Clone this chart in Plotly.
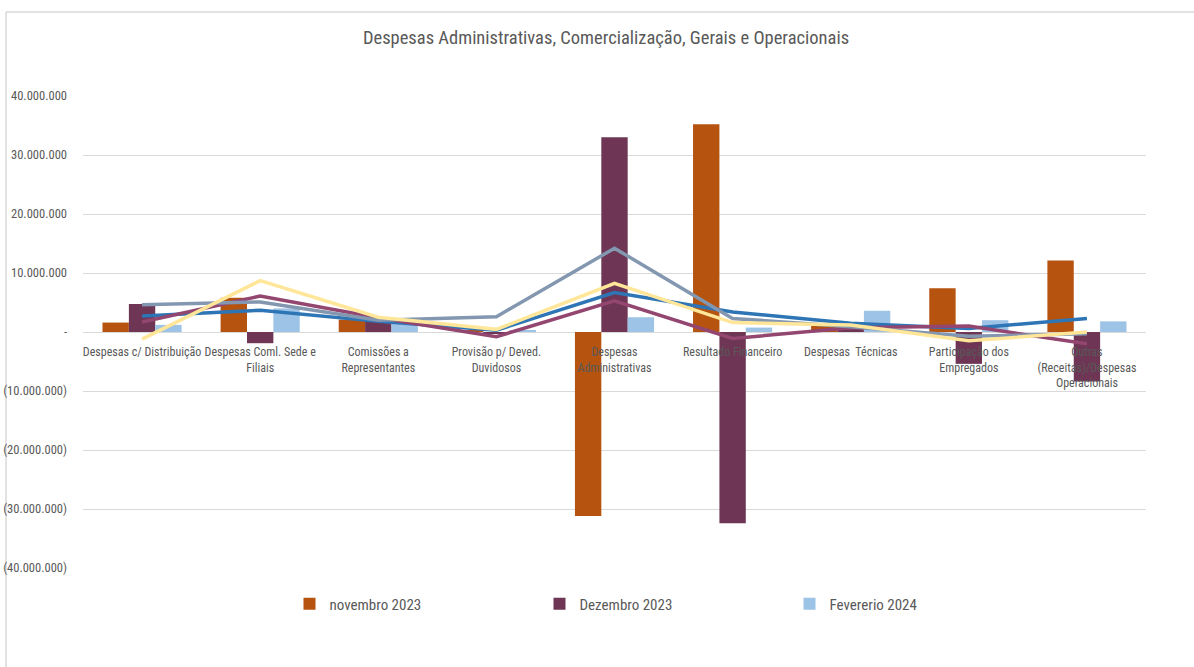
import plotly.graph_objects as go

categories = [
    "Despesas c/ Distribuição",
    "Despesas Coml. Sede e<br>Filiais",
    "Comissões a<br>Representantes",
    "Provisão p/ Deved.<br>Duvidosos",
    "Despesas<br>Administrativas",
    "Resultado Financeiro",
    "Despesas  Técnicas",
    "Participação dos<br>Empregados",
    "Outras<br>(Receitas)/Despesas<br>Operacionais",
]

nov_2023 = [1600000, 5800000, 2100000, 200000, -31200000, 35200000, 1300000, 7400000, 12100000]
dez_2023 = [4750000, -1900000, 1900000, -300000, 33000000, -32400000, 500000, -5400000, -8400000]
fev_2024 = [1200000, 4000000, 1700000, 200000, 2500000, 750000, 3600000, 2000000, 1800000]

line_blue = [2700000, 3700000, 1800000, 300000, 6700000, 3400000, 1500000, 600000, 2300000]
line_mauve = [1700000, 6100000, 2400000, -800000, 5300000, -1100000, 700000, 1000000, -2000000]
line_gray = [4600000, 5100000, 2000000, 2600000, 14200000, 2300000, 900000, -700000, -300000]
line_yellow = [-1200000, 8700000, 2500000, 450000, 8250000, 1600000, 1200000, -1500000, 0]

tick_vals = [40000000, 30000000, 20000000, 10000000, 0, -10000000, -20000000, -30000000, -40000000]
tick_text = ["40.000.000", "30.000.000", "20.000.000", "10.000.000", "-",
             "(10.000.000)", "(20.000.000)", "(30.000.000)", "(40.000.000)"]

FONT = "Liberation Sans Narrow, Roboto Condensed, Arial Narrow, Roboto, sans-serif"
TXT = "#595959"

W, H = 1194, 667
L, R, T, B = 83, 48, 96, 99
PW, PH = W - L - R, H - T - B

fig = go.Figure()
fig.add_trace(go.Bar(name="novembro 2023", x=categories, y=nov_2023,
                     marker=dict(color="#B5530F", line=dict(width=0))))
fig.add_trace(go.Bar(name="Dezembro 2023", x=categories, y=dez_2023,
                     marker=dict(color="#6E3654", line=dict(width=0))))
fig.add_trace(go.Bar(name="Fevererio 2024", x=categories, y=fev_2024,
                     marker=dict(color="#9DC3E6", line=dict(width=0))))

for vals, col in [(line_blue, "#2E75B6"), (line_mauve, "#93466F"),
                  (line_gray, "#8497B0"), (line_yellow, "#FFE699")]:
    fig.add_trace(go.Scatter(x=categories, y=vals, mode="lines",
                             line=dict(color=col, width=3.5), showlegend=False,
                             hoverinfo="skip"))

fig.update_layout(
    width=W, height=H,
    paper_bgcolor="white", plot_bgcolor="white",
    margin=dict(l=L, r=R, t=T, b=B, autoexpand=False),
    barmode="group", bargap=0.33, bargroupgap=0,
    font=dict(family=FONT, size=12, color=TXT),
    title=dict(text="Despesas Administrativas, Comercialização, Gerais e Operacionais",
               xref="paper", x=(606 - L) / PW, xanchor="center", y=1 - 38 / H, yanchor="middle",
               font=dict(family=FONT, size=18.5, color=TXT)),
    legend=dict(orientation="h", x=0.5 + 50 / PW, xanchor="center", y=-36 / PH, yanchor="middle",
                entrywidth=205, entrywidthmode="pixels",
                font=dict(family=FONT, size=15, color=TXT)),
    xaxis=dict(anchor="free", position=0.5, showline=False, ticks="", automargin=False,
               layer="above traces", tickfont=dict(family=FONT, size=12, color=TXT),
               tickangle=0, showgrid=False, ticklabelstandoff=11),
    yaxis=dict(range=[-40000000, 40000000], tickvals=tick_vals, ticktext=tick_text,
               showgrid=True, gridcolor="#D9D9D9", gridwidth=1, zeroline=True,
               zerolinecolor="#D9D9D9", zerolinewidth=1, showline=False, ticks="",
               automargin=False, layer="below traces",
               ticklabelstandoff=15, tickfont=dict(family=FONT, size=12.5, color=TXT)),
    shapes=[
        dict(type="line", xref="paper", yref="paper",
             x0=(6 - L) / PW, x1=(W - L) / PW, y0=1 + (T - 12) / PH, y1=1 + (T - 12) / PH,
             line=dict(color="#D9D9D9", width=1.5), layer="below"),
        dict(type="line", xref="paper", yref="paper",
             x0=(6 - L) / PW, x1=(6 - L) / PW, y0=1 + (T - 12) / PH, y1=-B / PH,
             line=dict(color="#D9D9D9", width=1.5), layer="below"),
    ],
)

fig.write_html("out.html", config={"displayModeBar": False},
               post_script="document.body.style.margin='0';")
